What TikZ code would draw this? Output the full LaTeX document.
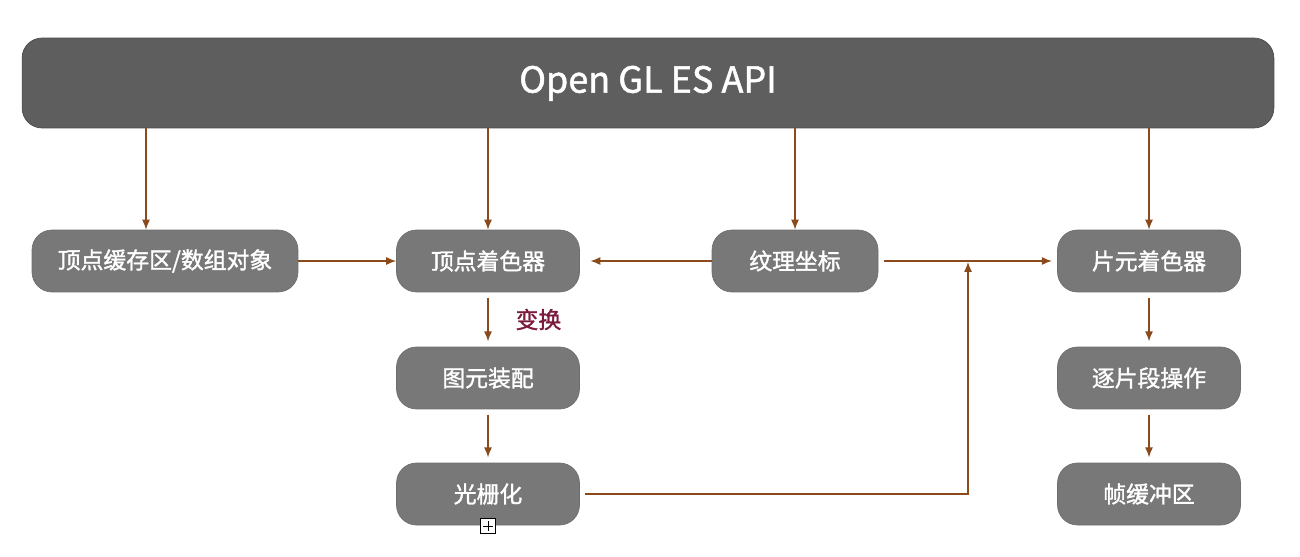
\documentclass[tikz,border=0pt]{standalone}
\usepackage{fontspec}
\setmainfont{Noto Sans CJK SC}
\newfontfamily\medfont{Noto Sans CJK SC}[FakeBold=1.4]
\usepackage{xcolor}
\usepackage{tikz}
\usetikzlibrary{arrows.meta}
\definecolor{apigray}{HTML}{5E5E5E}
\definecolor{boxgray}{HTML}{787878}
\definecolor{linebrown}{HTML}{8B4A1C}
\definecolor{labelred}{HTML}{7A1A3C}
\tikzstyle{api} = [rounded corners=0.4cm, fill=apigray, draw=apigray!80!black, text=white, minimum width=25.04cm, minimum height=1.8cm, text height=1.1em, text depth=0pt, font=\fontsize{20.5}{24}\medfont]
\tikzstyle{stage} = [rounded corners=0.4cm, fill=boxgray, draw=boxgray!92!black, text=white, minimum width=3.66cm, minimum height=1.24cm, font=\fontsize{13}{15}\medfont]
\tikzstyle{arrow} = [draw=linebrown, line width=0.7pt, -{Latex[length=2mm,width=1.6mm]}]
\tikzstyle{gap} = [shorten <=3pt, shorten >=3pt]

\begin{document}
\begin{tikzpicture}[x=0.02cm, y=-0.02cm]
            \useasboundingbox (0,0) rectangle (1300,557);
            \node[api] (api) at (648,83) {Open GL ES API};

            \node[stage, minimum width=5.32cm] (buf) at (165,261) {顶点缓存区/数组对象};
            \node[stage] (vsh) at (488,261) {顶点着色器};
            \node[stage, minimum width=3.32cm] (tex) at (795,261) {纹理坐标};
            \node[stage] (fsh) at (1149,261) {片元着色器};
            \node[stage] (prim) at (488,378) {图元装配};
            \node[stage] (rast) at (488,494) {光栅化};
            \node[stage] (frag) at (1149,378) {逐片段操作};
            \node[stage] (fbo) at (1149,494) {帧缓冲区};
            \node[draw, fill=white, line width=0.5pt, minimum size=0.3cm, inner sep=0pt,
                  path picture={\draw ([yshift=-1.5pt]path picture bounding box.north) -- ([yshift=1.5pt]path picture bounding box.south);
                                \draw ([xshift=1.5pt]path picture bounding box.west) -- ([xshift=-1.5pt]path picture bounding box.east);}]
                  (fold) at (488,526) {};
            \coordinate (join) at (968,262);

            % API to stages
            \draw[arrow] ([xshift=-0.38cm]buf.north |- api.south) -- ([xshift=-0.38cm]buf.north);
            \draw[arrow] (vsh.north |- api.south) -- (vsh.north);
            \draw[arrow] (tex.north |- api.south) -- (tex.north);
            \draw[arrow] (fsh.north |- api.south) -- (fsh.north);

            \draw[arrow] (buf) -- (vsh);
            \draw[arrow, shorten >=6pt] (tex) -- (vsh);
            \draw[arrow, gap] (tex) -- (fsh);
            \draw[arrow, gap] (vsh) -- (prim) node[midway, right=12pt, text=labelred, font=\fontsize{13}{15}\medfont] {变换};
            \draw[arrow, gap] (prim) -- (rast);
            \draw[arrow, shorten <=3pt] (rast) -| (join);
            \draw[arrow, gap] (fsh) -- (frag);
            \draw[arrow, gap] (frag) -- (fbo);
\end{tikzpicture}
\end{document}
